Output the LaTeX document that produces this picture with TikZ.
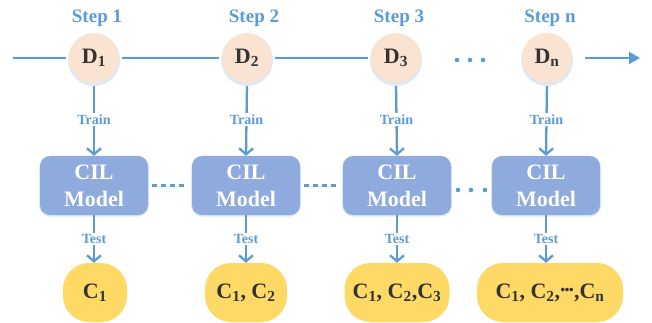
\documentclass[tikz,border=0pt]{standalone}
\usepackage{fontspec}
\setmainfont{Liberation Serif}
\usetikzlibrary{arrows.meta}
\definecolor{stepblue}{HTML}{5B9BD5}
\definecolor{peach}{HTML}{FBE3D2}
\definecolor{boxblue}{HTML}{8FAADC}
\definecolor{cyellow}{HTML}{FFD966}
\definecolor{darktext}{HTML}{333333}
\definecolor{shadowblue}{HTML}{DCE8F5}
\begin{document}
\begin{tikzpicture}[x=1pt,y=-1pt,
  steplbl/.style={text=stepblue, font=\fontsize{19}{21}\selectfont\bfseries},
  dnode/.style={circle, fill=peach, minimum size=50pt, inner sep=0pt, text=darktext, font=\fontsize{22}{24}\selectfont\bfseries},
  model/.style={rectangle, rounded corners=10pt, fill=boxblue, minimum width=108pt, minimum height=59pt, inner sep=0pt, align=center, text=white, font=\fontsize{22}{27}\selectfont\bfseries},
  cnode/.style={rectangle, rounded corners=26pt, fill=cyellow, minimum height=59pt, inner sep=0pt, text=darktext, font=\fontsize{22}{24}\selectfont\bfseries},
  lbl/.style={fill=white, inner sep=1.5pt, text=stepblue, font=\fontsize{14}{16}\selectfont\bfseries},
  conn/.style={draw=stepblue, line width=2.3pt},
  downarrow/.style={conn, -{Straight Barb[length=6pt,width=14pt,line width=2.3pt]}},
  dashconn/.style={conn, line width=2.6pt, dash pattern=on 5pt off 4pt}
]
\useasboundingbox (0,0) rectangle (652,323);

% soft shadows
\foreach \x in {94,247,396,547} \fill[shadowblue] (\x,60) circle (26pt);
\foreach \x in {94,246,397,546} \fill[shadowblue, rounded corners=11pt] (\x-55,157) rectangle (\x+55,216.5);

% step labels
\node[steplbl] (s1) at (97,18) {Step 1};
\node[steplbl] (s2) at (254,18) {Step 2};
\node[steplbl] (s3) at (399,18) {Step 3};
\node[steplbl] (sn) at (550,18) {Step n};

% data nodes
\node[dnode] (D1) at (94,58) {D\textsubscript{1}};
\node[dnode] (D2) at (247,58) {D\textsubscript{2}};
\node[dnode] (D3) at (396,58) {D\textsubscript{3}};
\node[dnode] (Dn) at (547,58) {D\textsubscript{n}};

% models
\node[model] (M1) at (94,185.5) {CIL\\Model};
\node[model] (M2) at (246,185.5) {CIL\\Model};
\node[model] (M3) at (397,185.5) {CIL\\Model};
\node[model] (M4) at (546,185.5) {CIL\\Model};

% class nodes
\node[cnode, minimum width=64pt] (C1) at (95,292.5) {C\textsubscript{1}};
\node[cnode, minimum width=82pt] (C2) at (246,292.5) {C\textsubscript{1}, C\textsubscript{2}};
\node[cnode, minimum width=105pt] (C3) at (397,292.5) {C\textsubscript{1}, C\textsubscript{2},C\textsubscript{3}};
\node[cnode, minimum width=146pt] (C4) at (550,292.5) {C\textsubscript{1}, C\textsubscript{2},\raisebox{0.3em}{.\kern-0.06em.\kern-0.06em.},C\textsubscript{n}};

% timeline
\coordinate (start) at (13,58);
\coordinate (tend) at (640,58);
\draw[conn] (start) -- ([xshift=-3pt]D1.west);
\draw[conn] ([xshift=3pt]D1.east) -- ([xshift=-3pt]D2.west);
\draw[conn] ([xshift=3pt]D2.east) -- ([xshift=-3pt]D3.west);
\draw[conn, -{Triangle[length=11pt,width=12pt]}] ([xshift=13pt]Dn.east) -- (tend);
\foreach \x in {457,470,483} \fill[stepblue] (\x,60) circle (2.3pt);

% train arrows
\draw[downarrow, shorten <=3pt] (D1.south) -- node[lbl] {Train} (M1.north);
\draw[downarrow, shorten <=3pt] (D2.south) -- node[lbl] {Train} (M2.north);
\draw[downarrow, shorten <=3pt] (D3.south) -- node[lbl] {Train} (M3.north);
\draw[downarrow, shorten <=3pt] (Dn.south) -- node[lbl] {Train} (M4.north);

% model links
\draw[dashconn, shorten <=4pt, shorten >=6pt] (M1.east) -- (M2.west);
\draw[dashconn, shorten <=4pt, shorten >=7pt] (M2.east) -- (M3.west);
\foreach \x in {458,471,485} \fill[stepblue] (\x,190) circle (2.3pt);

% test arrows
\draw[downarrow] (M1.south) -- node[lbl] {Test} (M1.south |- C1.north);
\draw[downarrow] (M2.south) -- node[lbl] {Test} (M2.south |- C2.north);
\draw[downarrow] (M3.south) -- node[lbl] {Test} (M3.south |- C3.north);
\draw[downarrow] (M4.south) -- node[lbl] {Test} (M4.south |- C4.north);
\end{tikzpicture}
\end{document}
